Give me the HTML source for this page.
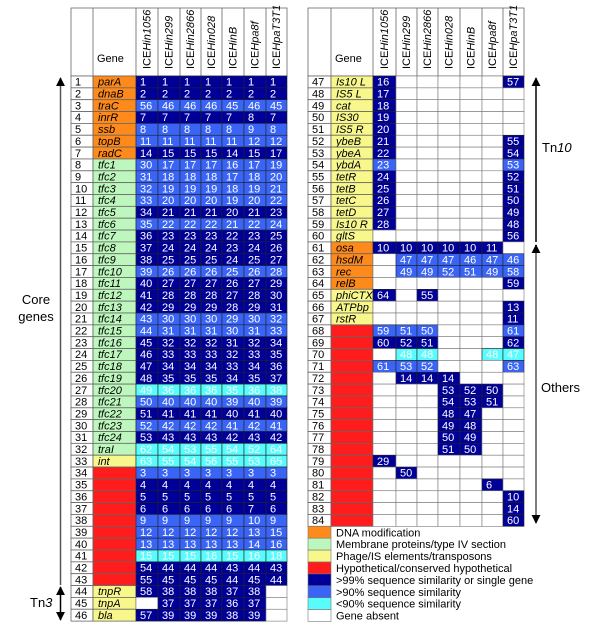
<!DOCTYPE html>
<html><head><meta charset="utf-8"><style>
body{margin:0;background:#fff}
svg{display:block;font-family:"Liberation Sans",Arial,sans-serif}
</style></head><body>
<svg id="chart" width="600" height="635" viewBox="0 0 600 635">
<defs>
<marker id="ah" viewBox="0 0 10 10" refX="9" refY="5" markerWidth="6" markerHeight="7" orient="auto-start-reverse"><path d="M0,0 L10,5 L0,10 z" fill="#000"/></marker>
</defs>
<g id="left"></g>
<g id="right"></g>
<g id="legend"></g>
<g>
<line x1="60.5" y1="585" x2="60.5" y2="78" stroke="#555" stroke-width="1.5" marker-end="url(#ah)"/>
<text x="36" y="304" font-size="13" text-anchor="middle">Core</text>
<text x="36" y="321" font-size="13" text-anchor="middle">genes</text>
</g>
<g>
<line x1="60.5" y1="587" x2="60.5" y2="620" stroke="#000" stroke-width="1.5" marker-end="url(#ah)" marker-start="url(#ah)"/>
<text x="30" y="607" font-size="13">Tn<tspan font-style="italic">3</tspan></text>
</g>
<g>
<line x1="536" y1="242" x2="536" y2="78" stroke="#000" stroke-width="1.5" marker-end="url(#ah)"/>
<text x="542" y="152" font-size="13">Tn<tspan font-style="italic">10</tspan></text>
</g>
<g>
<line x1="536" y1="245" x2="536" y2="523" stroke="#555" stroke-width="1.5" marker-end="url(#ah)"/>
<line x1="536" y1="245" x2="536" y2="250" stroke="#000" stroke-width="1.5" marker-start="url(#ah)"/>
<text x="541" y="392" font-size="13">Others</text>
</g>
</svg>
<script>
const strains = ["Hin1056","Hin299","Hin2866","Hin028","HinB","Hpa8f","HpaT3T1"];
const leftGenes = ["parA","dnaB","traC","inrR","ssb","topB","radC","tfc1","tfc2","tfc3","tfc4","tfc5","tfc6","tfc7","tfc8","tfc9","tfc10","tfc11","tfc12","tfc13","tfc14","tfc15","tfc16","tfc17","tfc18","tfc19","tfc20","tfc21","tfc22","tfc23","tfc24","traI","int","","","","","","","","","","","tnpR","tnpA","bla"];
const leftCats = "OOOOOOOGGGGGGGGGGGGGGGGGGGGGGGGGYRRRRRRRRRRYYY";
const leftValues = [
"D1 D1 D1 D1 D1 D1 D1","D2 D2 D2 D2 D2 D2 D2","M56 M46 M46 M46 M45 M46 M45","D7 D7 D7 D7 D7 D8 D7",
"M8 M8 M8 M8 M8 M9 M8","M11 M11 M11 M11 M11 M12 M12","D14 D15 D15 D15 D14 D15 D17","M30 M17 M17 M17 M16 M17 M19",
"M31 M18 M18 M18 M17 M18 M20","M32 M19 M19 M19 M18 M19 M21","M33 M20 M20 M20 M19 M20 M22","D34 D21 D21 D21 D20 D21 D23",
"M35 M22 M22 M22 M21 M22 M24","D36 D23 D23 D23 D22 D23 D25","D37 D24 D24 D24 D23 D24 D26","D38 D25 D25 D25 D24 D25 D27",
"M39 M26 M26 M26 M25 M26 M28","D40 D27 D27 D27 D26 D27 D29","D41 D28 D28 D28 D27 D28 D30","D42 D29 D29 D29 D28 D29 D31",
"M43 M30 M30 M30 M29 M30 M32","M44 M31 M31 M31 M30 M31 M33","D45 D32 D32 D32 D31 D32 D34","D46 D33 D33 D33 D32 D33 D35",
"D47 D34 D34 D34 D33 D34 D36","D48 D35 D35 D35 D34 D35 D37","C49 C36 C36 C36 C35 C36 C38","M50 M40 M40 M40 M39 M40 M39",
"D51 D41 D41 D41 D40 D41 D40","M52 M42 M42 M42 M41 M42 M41","D53 D43 D43 D43 D42 D43 D42","C62 C54 C53 C55 C54 C52 C64",
"C63 C55 C54 C56 C55 C53 C65","M3 M3 M3 M3 M3 M3 M3","D4 D4 D4 D4 D4 D4 D4","D5 D5 D5 D5 D5 D5 D5",
"D6 D6 D6 D6 D6 D7 D6","M9 M9 M9 M9 M9 M10 M9","M12 M12 M12 M12 M12 M13 M15","M13 M13 M13 M13 M13 M14 M16",
"C15 C15 C15 C16 C15 C16 C18","D54 D44 D44 D44 D43 D44 D43","D55 D45 D45 D45 D44 D45 D44","D58 D38 D38 D38 D37 D38 -",
"- D37 D37 D37 D36 D37 -","D57 D39 D39 D39 D38 D39 -"];
const rightGenes = ["Is10 L","IS5 L","cat","IS30","IS5 R","ybeB","ybeA","ybdA","tetR","tetB","tetC","tetD","Is10 R","gltS","osa","hsdM","rec","relB","phiCTX","ATPbp","rstR","","","","","","","","","","","","","","","","",""];
const rightCats = "YYYYYYYYYYYYYYOOOOYYYRRRRRRRRRRRRRRRRR";
const rightValues = [
"D16 - - - - - D57","D17 - - - - - -","D18 - - - - - -","D19 - - - - - -","D20 - - - - - -",
"D21 - - - - - D55","D22 - - - - - D54","M23 - - - - - M53","D24 - - - - - D52","D25 - - - - - D51",
"D26 - - - - - D50","D27 - - - - - D49","D28 - - - - - D48","- - - - - - D56","D10 D10 D10 D10 D10 D11 -",
"- M47 M47 M47 M46 M47 M46","- M49 M49 M52 M51 M49 M58","- - - - - - D59","D64 - D55 - - - -","- - - - - - D13",
"- - - - - - D11","M59 M51 M50 - - - M61","D60 D52 D51 - - - D62","- C48 C48 - - C48 C47","M61 M53 M52 - - - M63",
"- D14 D14 D14 - - -","- - - D53 D52 D50 -","- - - D54 D53 D51 -","- - - D48 D47 - -","- - - D49 D48 - -",
"- - - D50 D49 - -","- - - D51 D50 - -","D29 - - - - - -","- D50 - - - - -","- - - - - D6 -",
"- - - - - - D10","- - - - - - D14","- - - - - - D60"];
const legendLabels = ["DNA modification","Membrane proteins/type IV section","Phage/IS elements/transposons","Hypothetical/conserved hypothetical",">99% sequence similarity or single gene",">90% sequence similarity","<90% sequence similarity","Gene absent"];
const legendCats = ["O","G","Y","R","D","M","C","W"];

const COL = {O:"#ff8a1c",G:"#bdf7bd",Y:"#f7f78c",R:"#ff1c1c",D:"#000099",M:"#3a64f5",C:"#58fcfc",W:"#ffffff"};
const NS="http://www.w3.org/2000/svg";
const Y0=76, RH=11.85;
function el(tag,attrs,parent){const e=document.createElementNS(NS,tag);for(const k in attrs)e.setAttribute(k,attrs[k]);parent.appendChild(e);return e;}
function rowY(i){return Y0+i*RH;}

function drawTable(g,xs,startNum,genes,cats,values,side){
  const top=8, bot=Y0, n=genes.length;
  const hb=el('rect',{x:xs[0],y:top,width:xs[xs.length-1]-xs[0],height:bot-top,fill:'#fff',stroke:'#666','stroke-width':0.8},g);
  
  
  const gh=el('text',{x:xs[1]+4,y:62,'font-size':11},g);gh.textContent='Gene';
  
  
  strains.forEach((s,j)=>{
    const cx=(xs[j+2]+xs[j+3])/2+3.5;
    const t=el('text',{x:0,y:0,'font-size':11,transform:`translate(${cx},69) rotate(-90)`},g);
    
    
    const a=el('tspan',{},t);a.textContent='ICE';
    const b=el('tspan',{'font-style':'italic'},t);b.textContent=s;
    el('line',{x1:xs[j+2],y1:top,x2:xs[j+2],y2:bot,stroke:'#666','stroke-width':0.8},g);
  });
  el('line',{x1:xs[1],y1:top,x2:xs[1],y2:bot,stroke:'#666','stroke-width':0.8},g);
  for(let i=0;i<n;i++){
    const y=rowY(i);
    const nr=el('rect',{x:xs[0],y:y,width:xs[1]-xs[0],height:RH,fill:'#fff',stroke:'#666','stroke-width':0.8},g);
    
    
    const nt=el('text',{x:xs[0]+4,y:y+RH-2.2,'font-size':11},g);nt.textContent=startNum+i;
    
    
    const gr=el('rect',{x:xs[1],y:y,width:xs[2]-xs[1],height:RH,fill:COL[cats[i]],stroke:'#666','stroke-width':0.8},g);
    
    
    if(genes[i]){const gt=el('text',{x:xs[1]+5,y:y+RH-2.2,'font-size':11,'font-style':'italic'},g);gt.textContent=genes[i];
      
      }
    const cells=values[i].split(' ');
    cells.forEach((c,j)=>{
      const k=c==='-'?'W':c[0];
      const r=el('rect',{x:xs[j+2],y:y,width:xs[j+3]-xs[j+2],height:RH,fill:COL[k],stroke:k==='W'?'#777':'#222','stroke-width':0.6},g);
      
      
      if(k!=='W'){const t=el('text',{x:xs[j+2]+4,y:y+RH-2.2,'font-size':11,fill:'#fff'},g);t.textContent=c.slice(1);
        
        }
    });
  }
}
drawTable(document.getElementById('left'),[71,93,136,158,180,201,222,244,266,287],1,leftGenes,leftCats,leftValues,'left');
drawTable(document.getElementById('right'),[308,331,373,396,417,438,460,482,503,524],47,rightGenes,rightCats,rightValues,'right');
const lg=document.getElementById('legend');
const ly0=rowY(38);
legendLabels.forEach((lab,i)=>{
  const y=ly0+i*11.9;
  const r=el('rect',{x:308,y:y,width:23,height:11.9,fill:COL[legendCats[i]],stroke:'#777','stroke-width':0.6},lg);
  
  
  const t=el('text',{x:336,y:y+10,'font-size':11},lg);t.textContent=lab;
  
  
});
</script>
</body></html>
